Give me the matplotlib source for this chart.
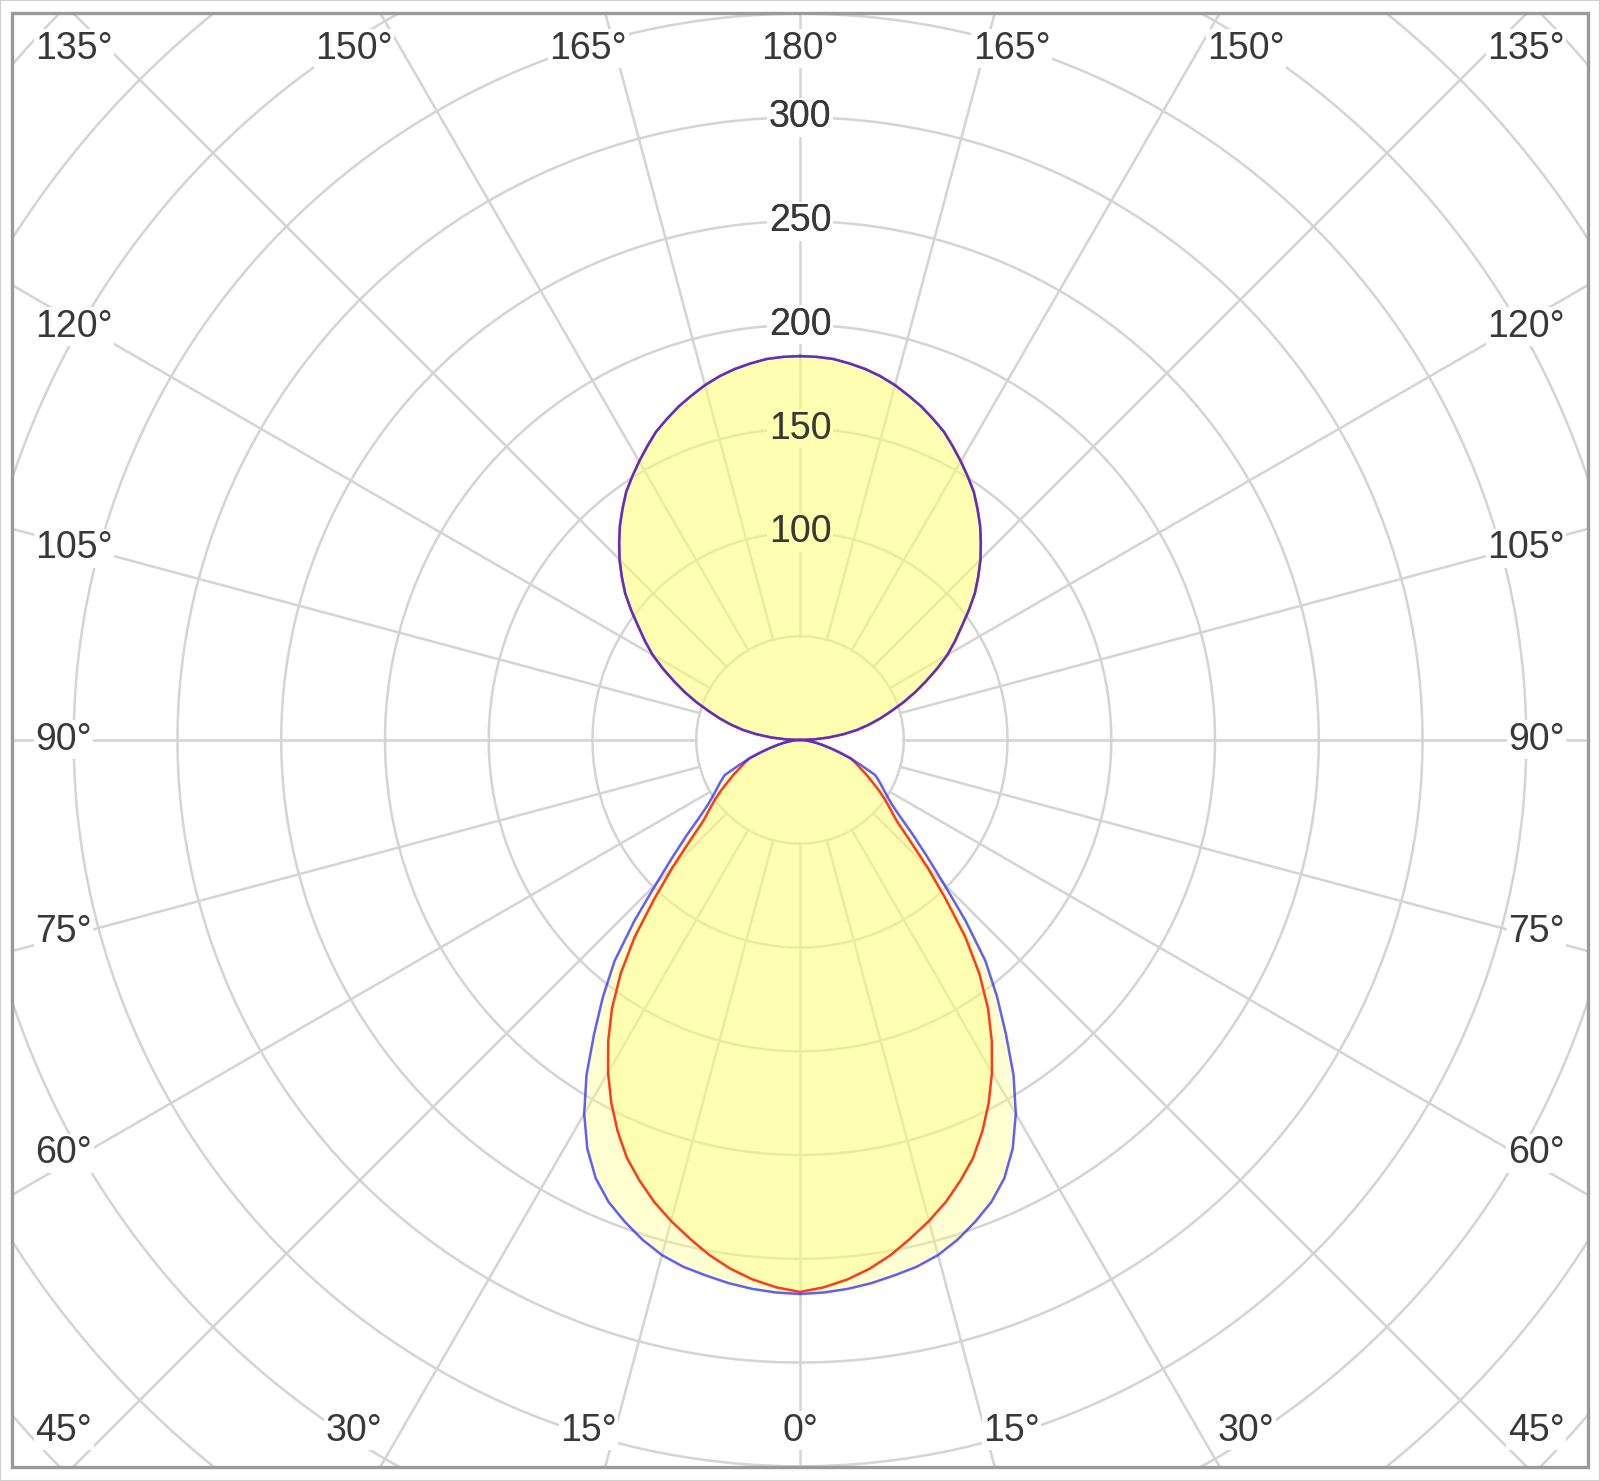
import numpy as np
import matplotlib.pyplot as plt
from matplotlib.patches import Rectangle

# luminous intensity diagram, gamma 0 = straight down, 180 = straight up
gamma = np.arange(0, 182.5, 2.5)

# lower half (gamma 0..90)
c0_low = [267, 266.5, 265.5, 264, 262, 260, 257, 252.5, 247, 241, 233, 222, 208, 191.5,
          173, 156, 139, 118, 98, 83, 71, 61, 54, 49.5, 46, 43, 40, 32, 26, 20, 15, 11,
          8, 5, 3, 1.5, 0]
c90_low = [266, 264, 261, 257, 252, 246, 240, 233.5, 226, 218, 208, 197, 185, 172,
           158, 142, 124, 104, 87, 72, 61, 55, 50, 45, 40, 36, 32, 29, 26, 20, 15, 11,
           8, 5, 3, 1.5, 0]
# upper half (gamma 92.5..180), both planes the same
up = [7, 14, 21, 28, 34, 40, 46, 53, 60, 67, 74.5, 82, 88.5, 95, 102.5, 110, 116.5, 123,
      129, 135, 140.5, 146, 150.5, 155, 159.5, 164, 167.5, 171, 174, 177, 179.5, 181.5,
      183, 184.3, 184.8, 185]

c0_c180 = c0_low + up      # blue
c90_c270 = c90_low + up    # red

rings = np.arange(50, 550, 50)
ring_labels = [100, 150, 200, 250, 300]
spokes = np.arange(0, 360, 15)
edge_angles = np.arange(0, 195, 15)

grid_col = "#d4d4d4"
text_col = "#383838"
fill_col = "#ffff78"
fam = ["Liberation Sans", "DejaVu Sans"]
fs = 27

fig = plt.figure(figsize=(16, 14.81), dpi=100)
ax = fig.add_axes([0, 0, 1, 1])
ax.set_xlim(-385.5, 385.5)
ax.set_ylim(-357.1, 356.6)
ax.set_aspect("equal")
ax.axis("off")

# frame of the chart, grid gets clipped to it
frame = Rectangle((-379.5, -350.5), 759, 701, fill=False, ec="#9a9a9a", lw=2.4, zorder=10)
ax.add_patch(frame)
clip = Rectangle((-379.5, -350.5), 759, 701, transform=ax.transData)

t = np.linspace(0, 2 * np.pi, 720)
for r in rings:
    ln, = ax.plot(r * np.cos(t), r * np.sin(t), color=grid_col, lw=1.8, zorder=1)
    ln.set_clip_path(clip)
for s in spokes:
    a = np.radians(s)
    ln, = ax.plot([50 * np.sin(a), 700 * np.sin(a)], [-50 * np.cos(a), -700 * np.cos(a)],
                  color=grid_col, lw=1.8, zorder=1)
    ln.set_clip_path(clip)

# intensity labels along the upward axis
for v in ring_labels:
    ax.text(0, v, str(v), ha="center", va="center", fontsize=fs, color=text_col, family=fam,
            zorder=2, bbox=dict(fc="white", ec="none", pad=1))
    ax.text(0, v, str(v), ha="center", va="center", fontsize=fs, color=text_col, family=fam,
            zorder=6)

# angle labels round the frame
def edge_pos(g, side):
    ha = "center"
    if g < 50 or g > 130:
        y = -333 if g < 90 else 333
        k = g if g < 90 else 180 - g
        if k == 0:
            x = 0
        elif k == 45:
            x = 368.5
            ha = "right" if side > 0 else "left"
        else:
            x = 333 * np.tan(np.radians(k + 1.2 + 0.055 * k))
        return side * x, y, ha
    y = -350 / np.tan(np.radians(g)) * 0.985
    return side * 368.5, y, ("right" if side > 0 else "left")

for g in edge_angles:
    sides = [1] if g in (0, 180) else [-1, 1]
    for sd in sides:
        x, y, ha = edge_pos(g, sd)
        ax.text(x, y, f"{g}°", ha=ha, va="center", fontsize=fs, color=text_col,
                family=fam, zorder=2, bbox=dict(fc="white", ec="none", pad=1))

# curves, mirrored to both sides
def outline(vals):
    g = np.concatenate([-gamma[::-1], gamma[1:]])
    r = np.concatenate([np.array(vals)[::-1], np.array(vals)[1:]])
    a = np.radians(g)
    return r * np.sin(a), -r * np.cos(a)

xr, yr = outline(c90_c270)
xb, yb = outline(c0_c180)
ax.fill(xr, yr, color=fill_col, alpha=0.34, lw=0, zorder=3)
ax.fill(xb, yb, color=fill_col, alpha=0.34, lw=0, zorder=3)
ax.plot(xr, yr, color="#ff3a1a", lw=1.8, zorder=4, solid_joinstyle="round")
ax.plot(xb, yb, color="#2a2aff", lw=1.8, alpha=0.75, zorder=5, solid_joinstyle="round")

# thin outer border of the picture
fig.patches.append(Rectangle((0, 0), 1, 1, transform=fig.transFigure, fill=False,
                             ec="#cfcfcf", lw=1.5))

fig.savefig("out.png", dpi=100)
